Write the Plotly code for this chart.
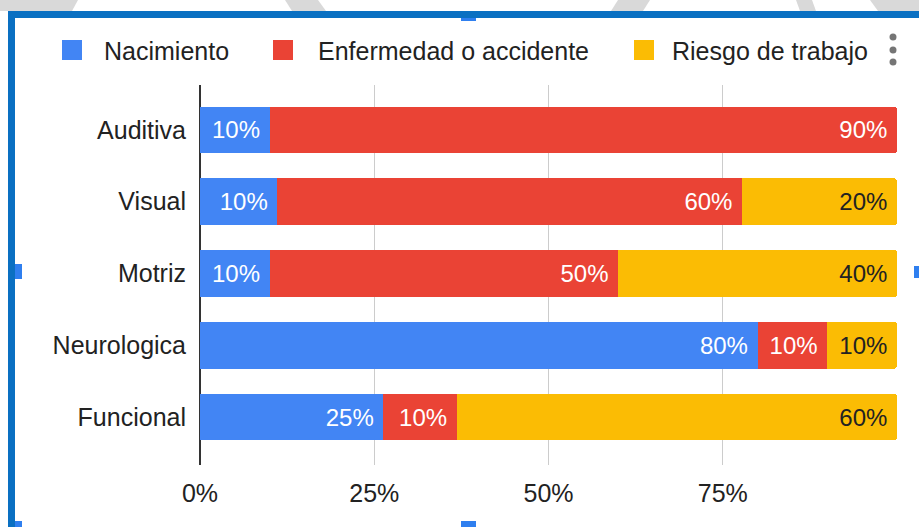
import plotly.graph_objects as go

categories = ["Auditiva", "Visual", "Motriz", "Neurologica", "Funcional"]
series_names = ["Nacimiento", "Enfermedad o accidente", "Riesgo de trabajo"]
nacimiento = [10, 10, 10, 80, 25]
enfermedad = [90, 60, 50, 10, 10]
riesgo = [0, 20, 40, 10, 60]
colors = ["#4285F4", "#EA4335", "#FBBC04"]
label_colors = ["#ffffff", "#ffffff", "#222222"]
tick_vals = [0, 25, 50, 75, 100]
tick_text = ["0%", "25%", "50%", "75%", ""]

W, H = 919, 527
PL, PR, PT, PB = 200, 897, 85, 465
FONT = "Liberation Sans, Arial, sans-serif"
FS = 25
FS_LABEL = 24


def xp(px):
    return (px - PL) / (PR - PL)


def yp(py):
    return (PB - py) / (PB - PT)


fig = go.Figure()
for name, vals, col, lc in zip(series_names, [nacimiento, enfermedad, riesgo], colors, label_colors):
    fig.add_trace(go.Bar(
        name=name,
        y=categories,
        x=vals,
        orientation="h",
        marker=dict(color=col, line=dict(width=0)),
        text=[f"{v}%\u00a0" if v else "" for v in vals],
        textposition="inside",
        insidetextanchor="end",
        textfont=dict(color=lc, size=FS_LABEL, family=FONT),
        hoverinfo="skip",
    ))

shapes = []
gray = "#d9d9d9"
polys = [
    [(0, 0), (78, 0), (72, 11), (0, 11)],
    [(285, 0), (318, 0), (326, 11), (292, 11)],
    [(618, 0), (650, 0), (643, 11), (611, 11)],
    [(796, 0), (812, 0), (816, 11), (800, 11)],
    [(870, 0), (919, 0), (919, 11), (878, 11)],
]
for poly in polys:
    path = "M " + " L ".join(f"{xp(x)},{yp(y)}" for x, y in poly) + " Z"
    shapes.append(dict(type="path", xref="paper", yref="paper", path=path,
                       fillcolor=gray, line=dict(width=0), layer="below"))

border = "#0a70c2"
handle = "#2f7fef"
rects = [
    (8, 11, 925, 18, border),
    (8, 11, 15, 530, border),
    (15, 264, 22, 279, handle),
    (914, 266, 925, 278, handle),
    (461, 18, 476, 21, handle),
    (461, 521, 476, 530, handle),
    (15, 521, 22, 530, handle),
]
for x0, y0, x1, y1, c in rects:
    shapes.append(dict(type="rect", xref="paper", yref="paper",
                       x0=xp(x0), x1=xp(x1), y0=yp(y1), y1=yp(y0),
                       fillcolor=c, line=dict(width=0), layer="above"))

annotations = []
legend_sq = [62, 273, 634]
legend_tx = [102, 316, 670]
for name, col, sx, tx in zip(series_names, colors, legend_sq, legend_tx):
    shapes.append(dict(type="rect", xref="paper", yref="paper",
                       x0=xp(sx), x1=xp(sx + 20), y0=yp(60), y1=yp(40),
                       fillcolor=col, line=dict(width=0)))
    annotations.append(dict(xref="paper", yref="paper", x=xp(tx), y=yp(51),
                            xanchor="left", yanchor="middle", text=name,
                            showarrow=False,
                            font=dict(size=FS, color="#222222", family=FONT)))
for cy in [37, 50, 62]:
    shapes.append(dict(type="circle", xref="paper", yref="paper",
                       x0=xp(889.5), x1=xp(896.5), y0=yp(cy + 3.5), y1=yp(cy - 3.5),
                       fillcolor="#757575", line=dict(width=0)))

fig.update_layout(
    width=W, height=H,
    barmode="stack",
    barnorm="percent",
    bargap=0.35,
    barcornerradius=3,
    showlegend=False,
    paper_bgcolor="white",
    plot_bgcolor="white",
    margin=dict(l=PL, r=W - PR, t=PT, b=H - PB, pad=0),
    font=dict(family=FONT, size=FS, color="#222222"),
    xaxis=dict(
        range=[0, 100],
        tickvals=tick_vals, ticktext=tick_text,
        showgrid=True, gridcolor="#cccccc", gridwidth=1,
        zeroline=True, zerolinecolor="#333333", zerolinewidth=1.5,
        ticks="", ticklabelstandoff=11,
        tickfont=dict(size=FS, color="#222222", family=FONT),
        fixedrange=True,
    ),
    yaxis=dict(
        range=[4.667, -0.625],
        showgrid=False, zeroline=False,
        ticks="", ticklabelstandoff=13,
        tickfont=dict(size=FS, color="#222222", family=FONT),
        fixedrange=True,
    ),
    shapes=shapes,
    annotations=annotations,
)

fig.write_html(
    "out.html",
    config={"displayModeBar": False},
    post_script="document.body.style.margin='0';document.body.style.padding='0';document.body.style.overflow='hidden';",
)
